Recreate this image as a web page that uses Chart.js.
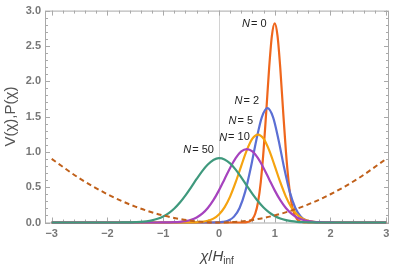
<!DOCTYPE html>
<html>
<head>
<meta charset="utf-8">
<script src="https://cdn.jsdelivr.net/npm/chart.js@4.4.1/dist/chart.umd.min.js"></script>
<style>
  html, body { margin: 0; padding: 0; background: #fff; }
  canvas { display: block; }
</style>
</head>
<body>
<canvas id="chart" width="395" height="268"></canvas>
<script>
// axis ticks
const xTicks = [-3, -2, -1, 0, 1, 2, 3];
const xTickLabels = ['−3', '−2', '−1', '0', '1', '2', '3'];
const yTicks = [0, 0.5, 1, 1.5, 2, 2.5, 3];
const yTickLabels = ['0.0', '0.5', '1.0', '1.5', '2.0', '2.5', '3.0'];

// potential V(chi), dashed
const potentialX = [-3, -2.5, -2, -1.5, -1, -0.5, 0, 0.5, 1, 1.5, 2, 2.5, 3];
const potentialV = [0.9, 0.625, 0.4, 0.225, 0.1, 0.025, 0, 0.025, 0.1, 0.225, 0.4, 0.625, 0.9];

// P(chi) for each N
const n0X = [-3, 0.45, 0.5, 0.55, 0.6, 0.65, 0.7, 0.75, 0.8, 0.85, 0.9, 0.95, 1.0, 1.05, 1.1, 1.15, 1.2, 1.25, 1.3, 1.35, 1.4, 1.45, 1.5, 1.55, 3];
const n0P = [0, 0, 0.005, 0.016, 0.048, 0.124, 0.284, 0.573, 1.017, 1.588, 2.185, 2.646, 2.82, 2.646, 2.185, 1.588, 1.017, 0.573, 0.284, 0.124, 0.048, 0.016, 0.005, 0, 0];

const n2X = [-3, -0.13, -0.03, 0.07, 0.17, 0.27, 0.37, 0.47, 0.57, 0.67, 0.77, 0.87, 0.97, 1.07, 1.17, 1.27, 1.37, 1.47, 1.57, 1.67, 1.77, 1.87, 3];
const n2P = [0, 0, 0.002, 0.008, 0.028, 0.083, 0.206, 0.433, 0.771, 1.165, 1.492, 1.62, 1.492, 1.165, 0.771, 0.433, 0.206, 0.083, 0.028, 0.008, 0.002, 0, 0];

const n5X = [-3, -0.6, -0.5, -0.4, -0.3, -0.2, -0.1, 0, 0.1, 0.2, 0.3, 0.4, 0.5, 0.6, 0.7, 0.8, 0.9, 1.0, 1.1, 1.2, 1.3, 1.4, 1.5, 1.6, 1.7, 1.8, 1.9, 2.0, 3];
const n5P = [0, 0, 0.001, 0.003, 0.009, 0.024, 0.055, 0.114, 0.215, 0.367, 0.570, 0.802, 1.024, 1.186, 1.245, 1.186, 1.024, 0.802, 0.570, 0.367, 0.215, 0.114, 0.055, 0.024, 0.009, 0.003, 0.001, 0, 0];

const n10X = [-3, -1.1, -1.0, -0.9, -0.8, -0.7, -0.6, -0.5, -0.4, -0.3, -0.2, -0.1, 0, 0.1, 0.2, 0.3, 0.4, 0.5, 0.6, 0.7, 0.8, 0.9, 1.0, 1.1, 1.2, 1.3, 1.4, 1.5, 1.6, 1.7, 1.8, 1.9, 2.0, 2.1, 3];
const n10P = [0, 0, 0.001, 0.002, 0.004, 0.009, 0.019, 0.038, 0.072, 0.125, 0.206, 0.316, 0.455, 0.613, 0.773, 0.911, 1.006, 1.04, 1.006, 0.911, 0.773, 0.613, 0.455, 0.316, 0.206, 0.125, 0.072, 0.038, 0.019, 0.009, 0.004, 0.002, 0.001, 0, 0];

const n50X = [-3, -1.8, -1.7, -1.6, -1.5, -1.4, -1.3, -1.2, -1.1, -1.0, -0.9, -0.8, -0.7, -0.6, -0.5, -0.4, -0.3, -0.2, -0.1, 0, 0.1, 0.2, 0.3, 0.4, 0.5, 0.6, 0.7, 0.8, 0.9, 1.0, 1.1, 1.2, 1.3, 1.4, 1.5, 1.6, 1.7, 1.8, 3];
const n50P = [0, 0, 0.001, 0.002, 0.005, 0.009, 0.017, 0.030, 0.052, 0.085, 0.133, 0.198, 0.282, 0.383, 0.497, 0.616, 0.728, 0.821, 0.885, 0.910, 0.893, 0.837, 0.748, 0.639, 0.521, 0.405, 0.301, 0.213, 0.144, 0.093, 0.057, 0.034, 0.019, 0.010, 0.005, 0.003, 0.001, 0, 0];

const seriesNames = ['0', '2', '5', '10', '50'];
const seriesColors = ['#ef661c', '#5b6fd4', '#f5a30f', '#a643be', '#3f997d'];
// where the "N = .." labels sit (data coords, right edge / middle)
const labelX = [0.854, 0.721, 0.613, 0.554, -0.091];
const labelY = [2.81, 1.715, 1.437, 1.204, 1.032];

const FONT = "'Liberation Sans', Arial, sans-serif";

function pts(xs, ys) {
  return xs.map((x, i) => ({ x: x, y: ys[i] }));
}

const seriesData = [[n0X, n0P], [n2X, n2P], [n5X, n5P], [n10X, n10P], [n50X, n50P]];

const datasets = seriesData.map((s, i) => ({
  label: 'N = ' + seriesNames[i],
  data: pts(s[0], s[1]),
  borderColor: seriesColors[i],
  borderWidth: 2.2,
  order: 5 - i,
  clip: 4
}));
datasets.push({
  label: 'V',
  data: pts(potentialX, potentialV),
  borderColor: '#c0601a',
  borderWidth: 2,
  borderDash: [5, 3.5],
  order: 0,
  clip: 4
});

const framePlugin = {
  id: 'frame',
  beforeDatasetsDraw(chart) {
    const ctx = chart.ctx;
    const a = chart.chartArea;
    const xs = chart.scales.x, ys = chart.scales.y;
    ctx.save();
    // vertical line at x = 0
    const x0 = Math.round(xs.getPixelForValue(0)) + 0.5;
    ctx.strokeStyle = '#d2d2d2';
    ctx.lineWidth = 1;
    ctx.beginPath();
    ctx.moveTo(x0, a.top);
    ctx.lineTo(x0, a.bottom);
    ctx.stroke();

    // frame
    ctx.strokeStyle = '#a9a9a9';
    ctx.strokeRect(a.left + 0.5, a.top + 0.5, a.right - a.left - 1, a.bottom - a.top);

    // inward ticks on all sides
    ctx.beginPath();
    for (let k = -15; k <= 15; k++) {
      const v = k / 5;
      const px = Math.round(xs.getPixelForValue(v)) + 0.5;
      const len = (k % 5 === 0) ? 5 : 3;
      ctx.moveTo(px, a.bottom);
      ctx.lineTo(px, a.bottom - len);
      ctx.moveTo(px, a.top);
      ctx.lineTo(px, a.top + len);
    }
    for (let k = 0; k <= 30; k++) {
      const v = k / 10;
      const py = Math.round(ys.getPixelForValue(v)) + 0.5;
      const len = (k % 5 === 0) ? 5 : 3;
      ctx.moveTo(a.left, py);
      ctx.lineTo(a.left + len, py);
      ctx.moveTo(a.right, py);
      ctx.lineTo(a.right - len, py);
    }
    ctx.stroke();
    ctx.restore();
  },
  afterDraw(chart) {
    const ctx = chart.ctx;
    const a = chart.chartArea;
    const xs = chart.scales.x, ys = chart.scales.y;
    ctx.save();

    // curve labels
    ctx.fillStyle = '#222';
    ctx.textBaseline = 'middle';
    for (let i = 0; i < seriesNames.length; i++) {
      const rx = xs.getPixelForValue(labelX[i]);
      const my = ys.getPixelForValue(labelY[i]);
      const rest = '= ' + seriesNames[i];
      ctx.font = '11px ' + FONT;
      const w2 = ctx.measureText(rest).width;
      ctx.textAlign = 'left';
      ctx.fillText(rest, rx - w2, my);
      ctx.font = 'italic 11px ' + FONT;
      ctx.textAlign = 'right';
      ctx.fillText('N', rx - w2 - 1, my);
    }

    // y title
    ctx.fillStyle = '#555';
    ctx.font = '15px ' + FONT;
    ctx.textAlign = 'center';
    ctx.textBaseline = 'middle';
    ctx.translate(11, (a.top + a.bottom) / 2);
    ctx.rotate(-Math.PI / 2);
    ctx.fillText('V(χ),P(χ)', 0, 0);
    ctx.setTransform(1, 0, 0, 1, 0, 0);

    // x title: chi / H_inf
    const parts = [
      { t: 'χ', f: 'italic 15px ' + FONT, dy: 0 },
      { t: '/', f: '15px ' + FONT, dy: 0 },
      { t: 'H', f: 'italic 15px ' + FONT, dy: 0 },
      { t: 'inf', f: '10px ' + FONT, dy: 3 }
    ];
    let total = 0;
    parts.forEach(p => { ctx.font = p.f; p.w = ctx.measureText(p.t).width; total += p.w; });
    let cx = (a.left + a.right) / 2 - total / 2;
    ctx.textAlign = 'left';
    ctx.textBaseline = 'alphabetic';
    ctx.fillStyle = '#444';
    parts.forEach(p => {
      ctx.font = p.f;
      ctx.fillText(p.t, cx, 261 + p.dy);
      cx += p.w;
    });
    ctx.restore();
  }
};

const tickFont = { family: FONT, size: 11, weight: 'bold' };

new Chart(document.getElementById('chart').getContext('2d'), {
  type: 'line',
  data: { datasets: datasets },
  options: {
    responsive: false,
    animation: false,
    layout: { padding: { top: 7, right: 6, left: 0, bottom: 0 } },
    elements: {
      point: { radius: 0 },
      line: { cubicInterpolationMode: 'monotone', fill: false }
    },
    plugins: {
      legend: { display: false },
      tooltip: { enabled: false }
    },
    scales: {
      x: {
        type: 'linear',
        min: -3.12,
        max: 3.05,
        afterBuildTicks: s => { s.ticks = xTicks.map(v => ({ value: v })); },
        afterFit: s => { s.height = 45.5; },
        grid: { display: false, drawTicks: false },
        border: { display: false },
        ticks: {
          padding: 5,
          maxRotation: 0,
          autoSkip: false,
          color: '#777',
          font: tickFont,
          callback: (v, i) => xTickLabels[i]
        }
      },
      y: {
        type: 'linear',
        min: 0,
        max: 3,
        afterBuildTicks: s => { s.ticks = yTicks.map(v => ({ value: v })); },
        afterFit: s => { s.width = 45; },
        grid: { display: false, drawTicks: false },
        border: { display: false },
        ticks: {
          padding: 4,
          autoSkip: false,
          color: '#777',
          font: tickFont,
          callback: (v, i) => yTickLabels[i]
        }
      }
    }
  },
  plugins: [framePlugin]
});
</script>
</body>
</html>
